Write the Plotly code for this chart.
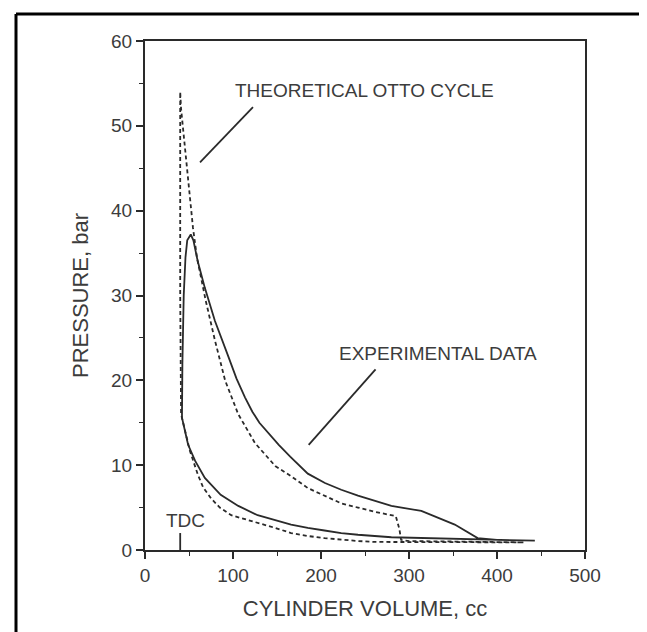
import plotly.graph_objects as go

# ---- Data ----
# Experimental cycle (solid): compression, combustion, expansion, exhaust
exp_volume = [443, 400, 380, 310, 280, 242, 223, 204, 185, 166, 148, 128, 106, 86, 68, 57, 49, 42,
              42.5, 44, 46, 48, 52, 55, 58, 60, 68, 79.5, 94, 104, 113.6, 122, 130, 140, 152, 165, 185, 204.5,
              223, 242, 261, 280, 314, 352, 378, 400, 443]
exp_pressure = [1.1, 1.2, 1.25, 1.4, 1.5, 1.8, 2.0, 2.3, 2.6, 3.0, 3.5, 4.1, 5.2, 6.5, 8.5, 10.5, 12.4, 15.6,
                22, 30, 34.5, 36.5, 37.2, 36.5, 35, 34, 30.9, 27, 23, 20.2, 18.0, 16.3, 15.0, 13.8, 12.4, 11.0, 9.0, 7.9,
                7.1, 6.4, 5.8, 5.2, 4.6, 3.0, 1.4, 1.2, 1.1]

# Theoretical Otto cycle (dashed)
otto_volume = [430, 350, 261, 242, 223, 204, 185, 166, 148, 128, 110, 98, 85, 75, 66, 60, 51, 43, 41,
               40, 40, 41, 43, 49, 54.5, 59, 69, 79.5, 91, 106, 125, 148, 166, 185, 204.5,
               223, 242, 261, 285, 289, 291, 300, 350, 430]
otto_pressure = [0.9, 0.95, 0.95, 1.06, 1.2, 1.4, 1.65, 2.0, 2.6, 3.2, 3.7, 4.1, 5.0, 6.1, 7.4, 8.9, 11.7, 15.2, 16,
                 30, 54, 52, 49.8, 43.6, 38, 34.5, 29.4, 24.7, 20, 16, 12.6, 9.9, 8.7, 7.3, 6.4,
                 5.5, 5.0, 4.5, 4.0, 2.5, 1.2, 1.05, 1.0, 0.9]

x_ticks = [0, 100, 200, 300, 400, 500]
y_ticks = [0, 10, 20, 30, 40, 50, 60]

labels = ["THEORETICAL OTTO CYCLE", "EXPERIMENTAL DATA", "TDC"]
label_x = [100, 218, 46]
label_y = [54.2, 23.2, 3.5]
# leader lines: (x0, y0, x1, y1)
leaders = [(122.7, 52.2, 62.5, 45.7), (262, 21.3, 186, 12.4), (40, 0, 40, 2)]

ink = "#2a2a2a"
txt = "#3c3c3c"
font_family = "Liberation Sans, Arial, sans-serif"

fig = go.Figure()
fig.add_trace(go.Scatter(x=otto_volume, y=otto_pressure, mode="lines",
                         line=dict(color=ink, width=1.8, dash="4px,3px"), showlegend=False))
fig.add_trace(go.Scatter(x=exp_volume, y=exp_pressure, mode="lines",
                         line=dict(color=ink, width=1.8), showlegend=False))

anchors = ["left", "left", "center"]
for t, x, y, a in zip(labels, label_x, label_y, anchors):
    fig.add_annotation(x=x, y=y, text=t, showarrow=False, xanchor=a, yanchor="middle",
                       font=dict(family=font_family, size=19, color=txt))

for x0, y0, x1, y1 in leaders:
    fig.add_shape(type="line", x0=x0, y0=y0, x1=x1, y1=y1, xref="x", yref="y",
                  line=dict(color=ink, width=1.8))

# outer scan frame (left and top edges)
L, R, T, B = 137, 577, 33, 542
W, H = R - L, B - T
def px(v): return (v - L) / W
def py(v): return (B - v) / H
fig.add_shape(type="line", xref="paper", yref="paper", x0=px(8), x1=px(8), y0=py(6), y1=py(640),
              line=dict(color="black", width=3))
fig.add_shape(type="line", xref="paper", yref="paper", x0=px(8), x1=px(660), y0=py(6), y1=py(6),
              line=dict(color="black", width=3))

axis_common = dict(showgrid=False, zeroline=False, showline=True, linecolor=ink, linewidth=2,
                   mirror=True, ticks="outside", ticklen=7, tickwidth=1.5, tickcolor=ink,
                   tickfont=dict(family=font_family, size=19, color=txt))

fig.update_layout(
    width=647, height=632,
    margin=dict(l=L, r=647 - R, t=T, b=632 - B),
    paper_bgcolor="white", plot_bgcolor="white",
    xaxis=dict(range=[0, 500], tickvals=x_ticks,
               minor=dict(dtick=50, ticklen=4, ticks="outside", tickcolor=ink, tickwidth=1.2),
               title=dict(text="CYLINDER VOLUME, cc", standoff=16,
                          font=dict(family=font_family, size=22, color=txt)),
               **axis_common),
    yaxis=dict(range=[0, 60], tickvals=y_ticks,
               minor=dict(dtick=5, ticklen=4, ticks="outside", tickcolor=ink, tickwidth=1.2),
               title=dict(text="PRESSURE, bar", standoff=16,
                          font=dict(family=font_family, size=22, color=txt)),
               **axis_common),
)

fig.write_html("out.html")
